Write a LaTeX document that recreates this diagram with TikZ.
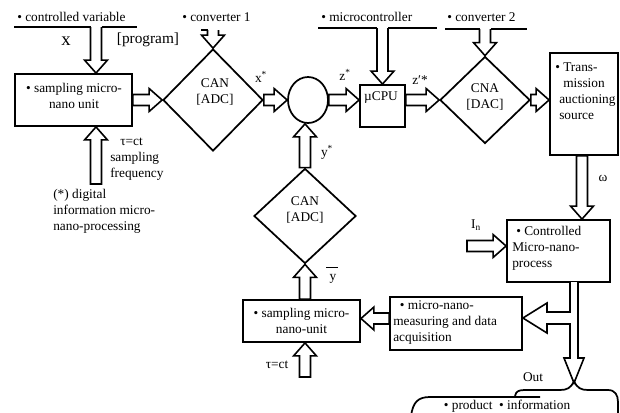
\documentclass[tikz,border=0pt]{standalone}
\usepackage{fontspec}
\setmainfont{Liberation Serif}
\usetikzlibrary{shapes.geometric,calc}
\def\hsw{4.125pt}\def\hhw{8.6pt}\def\hhl{9.75pt}
\newcommand\HollowArrow[2]{%
  \coordinate (hA) at #1;
  \coordinate (hB) at #2;
  \coordinate (hC) at ($(hB)!\hhl!(hA)$);
  \filldraw[harrow] ($(hA)!\hsw!90:(hB)$) -- ($(hC)!\hsw!90:(hB)$) -- ($(hC)!\hhw!90:(hB)$) -- (hB) -- ($(hC)!\hhw!-90:(hB)$) -- ($(hC)!\hsw!-90:(hB)$) -- ($(hA)!\hsw!-90:(hB)$) -- cycle;}
\newcommand\OpenArrow[2]{%
  \coordinate (hA) at #1;
  \coordinate (hB) at #2;
  \coordinate (hC) at ($(hB)!\hhl!(hA)$);
  \fill[white] ($(hA)!\hsw!90:(hB)$) -- ($(hC)!\hsw!90:(hB)$) -- ($(hC)!\hhw!90:(hB)$) -- (hB) -- ($(hC)!\hhw!-90:(hB)$) -- ($(hC)!\hsw!-90:(hB)$) -- ($(hA)!\hsw!-90:(hB)$) -- cycle;
  \draw[harrow] ($(hA)!\hsw!90:(hB)$) -- ($(hC)!\hsw!90:(hB)$) -- ($(hC)!\hhw!90:(hB)$) -- (hB) -- ($(hC)!\hhw!-90:(hB)$) -- ($(hC)!\hsw!-90:(hB)$) -- ($(hA)!\hsw!-90:(hB)$);}
\tikzset{
  box/.style={draw, rectangle, line width=1.4pt, inner sep=0pt},
  dia/.style={draw, diamond, line width=1.3pt, inner sep=0pt},
  harrow/.style={draw, fill=white, line width=1.2pt, line join=miter},
  txt/.style={inner sep=0pt, font=\fontsize{10}{12}\selectfont},
  lin/.style={line width=1.3pt},
}
\begin{document}
\begin{tikzpicture}[x=0.75pt,y=-0.75pt]
\useasboundingbox (0,0) rectangle (620,412);
% boxes and shapes
\node[box, minimum width=87.75pt, minimum height=39pt] (samp1) at (73.5,100) {};
\node[txt, align=center] (samp1t) at (74,96) {• sampling micro-\\nano unit};
\node[dia, minimum width=75pt, minimum height=76.5pt] (adc1) at (213,100) {};
\node[txt, align=center] (adc1t) at (215,92) {CAN\\{[ADC]}};
\node[draw, ellipse, line width=1.3pt, minimum width=30pt, minimum height=34.5pt, inner sep=0pt] (circ) at (308,100) {};
\node[box, minimum width=33.75pt, minimum height=31.5pt] (cpu) at (382.5,106) {};
\node[txt] (cput) at (381,97) {µCPU};
\node[dia, minimum width=67.5pt, minimum height=65.25pt] (cna) at (485,100) {};
\node[txt, align=center] (cnat) at (485,97) {CNA\\{[DAC]}};
\node[box, minimum width=51pt, minimum height=76.5pt] (trans) at (584,104) {};
\node[txt, align=left, anchor=west] (transt) at (559,91) {\hspace*{-3pt}• Trans-\\\hspace*{3pt}mission\\auctioning\\source};
\node[box, minimum width=77.25pt, minimum height=46.5pt] (ctrl) at (558.5,251) {};
\node[txt, align=left, anchor=west] (ctrlt) at (512,248) {\hspace*{3pt}• Controlled\\Micro-nano-\\process};
\node[box, minimum width=99pt, minimum height=39.75pt] (meas) at (456,323.5) {};
\node[txt, align=left, anchor=west] (meast) at (393,322) {\hspace*{5pt}• micro-nano-\\measuring and data\\acquisition};
\node[box, minimum width=87.75pt, minimum height=31.5pt] (samp2) at (301.5,321) {};
\node[txt, align=center] (samp2t) at (301.5,321) {• sampling micro-\\nano-unit};
\node[dia, minimum width=76.5pt, minimum height=71.25pt] (adc2) at (305,216) {};
\node[txt, align=center] (adc2t) at (305,210) {CAN\\{[ADC]}};
% labels
\node[txt, anchor=west] (cv) at (17,17) {• controlled variable};
\node[txt, font=\fontsize{14}{14}\selectfont] (xl) at (66,41) {x};
\node[txt, font=\fontsize{11.5}{12}\selectfont] (prog) at (148,40) {[program]};
\node[txt, anchor=west] (c1) at (182,17) {• converter 1};
\node[txt, anchor=west] (mc) at (321,17) {• microcontroller};
\node[txt, anchor=west] (c2) at (447,17) {• converter 2};
\node[txt] (xs) at (261,77) {x\textsuperscript{*}};
\node[txt] (zs) at (345,75) {z\textsuperscript{*}};
\node[txt] (zps) at (420,80) {z′*};
\node[txt] (ys) at (327,152) {y\textsuperscript{*}};
\node[txt, anchor=base] (ybar) at (333,280) {\makebox[0pt][l]{\hspace*{-2.5pt}\rule[9pt]{9pt}{0.9pt}}y};
\node[txt] (om) at (603,178) {ω};
\node[txt] (In) at (476,225) {I\textsubscript{n}};
\node[txt, align=left, anchor=west] (tau1) at (110,159) {\hspace*{7.5pt}τ=ct\\sampling\\frequency};
\node[txt, align=left, anchor=west] (dig) at (53,211) {(*) digital\\information micro-\\nano-processing};
\node[txt] (tau2) at (277,365) {τ=ct};
\node[txt] (out) at (533,377) {Out};
\node[txt] (prod) at (507,406) {• product\ \ • information};
% input lines
\coordinate (cvA) at (96,27);
\draw[lin] (14,27) -- ($(cvA)+(-5.5,0)$);
\draw[lin] ($(cvA)+(5.5,0)$) -- (137,27);
\coordinate (c1A) at (213,30);
\draw[lin] (201,30) -- ($(c1A)+(-5.5,0)$);
\coordinate (mcA) at (382.5,28);
\draw[lin] (318,28) -- ($(mcA)+(-5.5,0)$);
\draw[lin] ($(mcA)+(5.5,0)$) -- (437,28);
\coordinate (c2A) at (485,29);
\draw[lin] (445,29) -- ($(c2A)+(-5.5,0)$);
\draw[lin] ($(c2A)+(5.5,0)$) -- (527,29);
% arrows
\OpenArrow{(cvA)}{(cvA |- samp1.north)}
\coordinate (tauA) at (96,184);
\HollowArrow{(tauA)}{(tauA |- samp1.south)}
\HollowArrow{(samp1.east)}{(adc1.west)}
\OpenArrow{(c1A)}{(adc1.north)}
\HollowArrow{(adc1.east)}{(circ.west)}
\HollowArrow{(circ.east)}{(circ.east -| cpu.west)}
\OpenArrow{(mcA)}{(cpu.north)}
\HollowArrow{(cpu.east |- cna.west)}{(cna.west)}
\OpenArrow{(c2A)}{(cna.north)}
\HollowArrow{(cna.east)}{(cna.east -| trans.west)}
\coordinate (trA) at ($(trans.south)+(-2,0)$);
\HollowArrow{(trA)}{(trA |- ctrl.north)}
\coordinate (inA) at (467,246);
\HollowArrow{(inA)}{(inA -| ctrl.west)}
\coordinate (msA) at ($(meas.west)+(0,-5)$);
\HollowArrow{(msA)}{(msA -| samp2.east)}
\HollowArrow{(samp2.north -| adc2.south)}{(adc2.south)}
\HollowArrow{(adc2.north)}{(adc2.north |- circ.south)}
\coordinate (tau2A) at (305,377);
\HollowArrow{(tau2A)}{(tau2A |- samp2.south)}
% branching output arrow
\filldraw[harrow] (570,282) -- (570,312) -- (547,312) -- (547,303) -- (meas.east |- 0,318) -- (547,333) -- (547,324) -- (570,324) -- (570,358) -- (564,358) -- (574,383) -- (584,358) -- (578,358) -- (578,282);
% output brace
\draw[lin] (411,416) .. controls (413,402) and (418,397) .. (430,397) -- (540,397);
\draw[lin] (515,396) .. controls (516,391) and (519,390) .. (525,390) -- (560,390) .. controls (567,390) and (571,388) .. (574,381) .. controls (577,388) and (581,390) .. (588,390) -- (608,390) .. controls (615,390) and (618,395) .. (618,402) -- (618,416);
\end{tikzpicture}
\end{document}
